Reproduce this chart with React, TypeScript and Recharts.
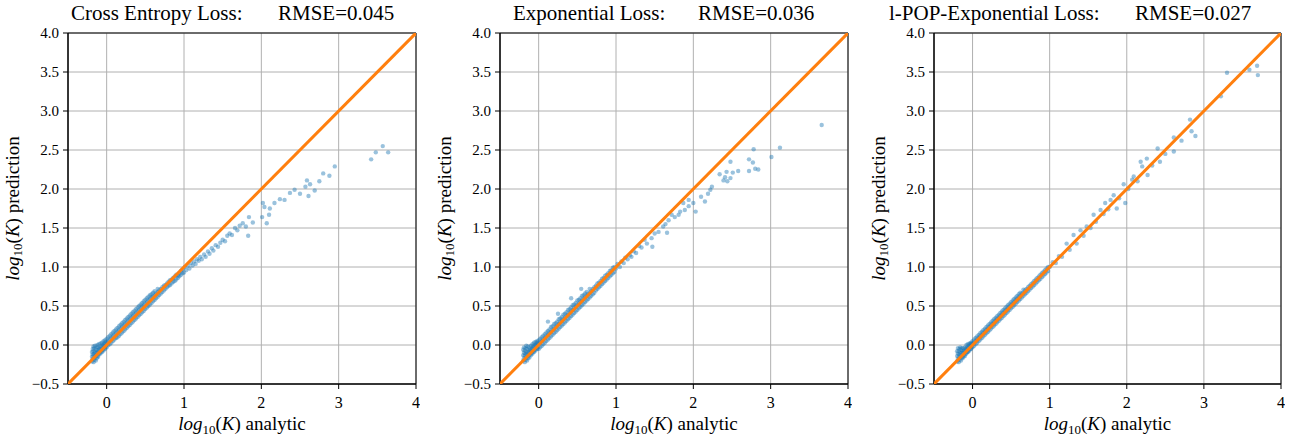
import React from 'react';
import {
  ScatterChart,
  Scatter,
  XAxis,
  YAxis,
  CartesianGrid,
  ReferenceArea,
} from 'recharts';

const X_TICKS: number[] = [0, 1, 2, 3, 4];
const Y_TICKS: number[] = [-0.5, 0, 0.5, 1, 1.5, 2, 2.5, 3, 3.5, 4];
const DIAGONAL = [
  { x: -0.5, y: -0.5 },
  { x: 4, y: 4 },
];

// low-end cluster near log10(K) = -0.2 .. 0
const CE_BLOB: number[][] = [
  [-0.19, -0.21], [-0.19, -0.15], [-0.19, -0.09], [-0.18, -0.18], [-0.18, -0.12], [-0.18, -0.05],
  [-0.17, -0.22], [-0.17, -0.14], [-0.17, -0.08], [-0.17, -0.02], [-0.16, -0.19], [-0.16, -0.11],
  [-0.16, -0.04], [-0.15, -0.16], [-0.15, -0.09], [-0.15, -0.01], [-0.14, -0.2], [-0.14, -0.13],
  [-0.14, -0.06], [-0.13, -0.17], [-0.13, -0.1], [-0.13, -0.03], [-0.12, -0.14], [-0.12, -0.07],
  [-0.12, 0.0], [-0.11, -0.15], [-0.11, -0.09], [-0.11, -0.03], [-0.1, -0.12], [-0.1, -0.06],
  [-0.1, 0.01], [-0.09, -0.1], [-0.09, -0.04], [-0.08, -0.11], [-0.08, -0.05], [-0.08, 0.02],
  [-0.07, -0.08], [-0.07, -0.02], [-0.06, -0.09], [-0.06, -0.03], [-0.06, 0.03], [-0.05, -0.06],
  [-0.05, 0.0], [-0.04, -0.07], [-0.04, -0.01], [-0.04, 0.05], [-0.03, -0.04], [-0.03, 0.02],
  [-0.02, -0.05], [-0.02, 0.01], [-0.02, 0.06], [-0.01, -0.02], [-0.01, 0.04],
];

// rows: x, then the predictions seen at that x
const CE_BAND: number[][] = [
  [0.0, -0.03, 0.03, 0.08], [0.02, 0.0, 0.05, 0.1], [0.04, 0.01, 0.07, 0.12], [0.06, 0.03, 0.09, 0.14],
  [0.08, 0.05, 0.11, 0.16], [0.1, 0.07, 0.13, 0.18], [0.12, 0.09, 0.15, 0.2], [0.14, 0.1, 0.17, 0.22],
  [0.16, 0.12, 0.19, 0.24], [0.18, 0.14, 0.21, 0.26], [0.2, 0.16, 0.23, 0.28], [0.22, 0.18, 0.25, 0.3],
  [0.24, 0.2, 0.27, 0.32], [0.26, 0.22, 0.29, 0.34], [0.28, 0.24, 0.31, 0.36], [0.3, 0.26, 0.33, 0.38],
  [0.32, 0.28, 0.35, 0.4], [0.34, 0.3, 0.37, 0.42], [0.36, 0.32, 0.39, 0.44], [0.38, 0.34, 0.41, 0.46],
  [0.4, 0.36, 0.43, 0.48], [0.42, 0.38, 0.45, 0.5], [0.44, 0.4, 0.47, 0.52], [0.46, 0.42, 0.49, 0.54],
  [0.48, 0.44, 0.51, 0.56], [0.5, 0.46, 0.53, 0.58], [0.52, 0.48, 0.55, 0.6], [0.54, 0.5, 0.57, 0.62],
  [0.56, 0.52, 0.59, 0.64], [0.58, 0.54, 0.61, 0.65], [0.6, 0.56, 0.62, 0.67], [0.62, 0.58, 0.64, 0.69],
  [0.64, 0.6, 0.66], [0.66, 0.62, 0.68, 0.72], [0.68, 0.64, 0.7], [0.7, 0.66, 0.72], [0.72, 0.68, 0.74],
  [0.74, 0.7, 0.76], [0.76, 0.72, 0.77], [0.78, 0.74, 0.79], [0.8, 0.76, 0.81], [0.82, 0.77, 0.83],
  [0.84, 0.79, 0.84], [0.86, 0.81, 0.86], [0.88, 0.82, 0.88], [0.9, 0.84, 0.9], [0.92, 0.86, 0.89],
  [0.94, 0.88, 0.92], [0.96, 0.9, 0.95], [0.98, 0.92, 0.97],
];

const CE_SPARSE: number[][] = [
  [1.0, 0.93], [1.01, 1.0], [1.03, 0.96], [1.05, 1.02], [1.07, 0.98], [1.09, 1.05], [1.11, 1.02],
  [1.13, 1.07], [1.15, 1.04], [1.17, 1.1], [1.19, 1.08], [1.21, 1.13], [1.23, 1.1], [1.26, 1.16],
  [1.28, 1.13], [1.31, 1.2], [1.33, 1.17], [1.36, 1.24], [1.38, 1.21], [1.41, 1.28], [1.44, 1.26],
  [1.47, 1.31], [1.5, 1.35], [1.53, 1.33], [1.56, 1.4], [1.59, 1.43], [1.62, 1.41], [1.66, 1.5],
  [1.69, 1.47], [1.72, 1.53], [1.76, 1.56], [1.8, 1.52], [1.84, 1.64], [1.83, 1.4], [1.89, 1.57],
  [2.01, 1.64], [2.02, 1.82], [2.04, 1.77], [2.07, 1.56], [2.1, 1.67], [2.11, 1.75], [2.17, 1.82],
  [2.24, 1.87], [2.3, 1.86], [2.37, 1.95], [2.43, 1.99], [2.5, 1.94], [2.57, 2.03], [2.59, 2.11],
  [2.61, 1.91], [2.63, 2.06], [2.69, 1.98], [2.75, 2.1], [2.8, 2.2], [2.88, 2.17], [2.95, 2.29],
  [3.42, 2.38], [3.48, 2.47], [3.57, 2.55], [3.64, 2.47],
];

const EXP_BLOB: number[][] = [
  [-0.2, -0.2], [-0.2, -0.13], [-0.2, -0.06], [-0.19, -0.17], [-0.19, -0.1], [-0.19, -0.03],
  [-0.18, -0.22], [-0.18, -0.14], [-0.18, -0.07], [-0.17, -0.19], [-0.17, -0.11], [-0.17, -0.04],
  [-0.16, -0.16], [-0.16, -0.09], [-0.16, -0.01], [-0.15, -0.2], [-0.15, -0.12], [-0.15, -0.05],
  [-0.14, -0.17], [-0.14, -0.1], [-0.14, -0.02], [-0.13, -0.14], [-0.13, -0.07], [-0.12, -0.16],
  [-0.12, -0.09], [-0.12, -0.03], [-0.11, -0.12], [-0.11, -0.06], [-0.1, -0.13], [-0.1, -0.07],
  [-0.1, -0.01], [-0.09, -0.1], [-0.09, -0.04], [-0.08, -0.11], [-0.08, -0.05], [-0.08, 0.01],
  [-0.07, -0.08], [-0.07, -0.02], [-0.06, -0.09], [-0.06, -0.03], [-0.06, 0.03], [-0.05, -0.06],
  [-0.05, 0.0], [-0.04, -0.07], [-0.04, -0.01], [-0.04, 0.04], [-0.03, -0.04], [-0.03, 0.02],
  [-0.02, -0.05], [-0.02, 0.0], [-0.02, 0.05], [-0.01, -0.03], [-0.01, 0.03],
];

const EXP_BAND: number[][] = [
  [0.0, -0.05, 0.01, 0.06], [0.02, -0.03, 0.03, 0.08], [0.04, -0.01, 0.05, 0.1], [0.06, 0.01, 0.07, 0.12],
  [0.08, 0.03, 0.09, 0.14], [0.1, 0.05, 0.11, 0.16], [0.12, 0.07, 0.13, 0.18], [0.14, 0.09, 0.15, 0.2],
  [0.16, 0.11, 0.17, 0.23], [0.18, 0.13, 0.19, 0.24], [0.2, 0.15, 0.21, 0.27], [0.22, 0.17, 0.23, 0.28],
  [0.24, 0.19, 0.25, 0.3], [0.26, 0.21, 0.27, 0.33], [0.28, 0.23, 0.29, 0.34], [0.3, 0.25, 0.31, 0.36],
  [0.32, 0.27, 0.33, 0.39], [0.34, 0.29, 0.35, 0.4], [0.36, 0.31, 0.37, 0.42], [0.38, 0.33, 0.39, 0.45],
  [0.4, 0.35, 0.41, 0.46], [0.42, 0.37, 0.43, 0.48], [0.44, 0.39, 0.45, 0.51], [0.46, 0.41, 0.47, 0.52],
  [0.48, 0.43, 0.49, 0.54], [0.5, 0.45, 0.51, 0.57], [0.52, 0.47, 0.53, 0.58], [0.54, 0.49, 0.55, 0.6],
  [0.56, 0.51, 0.57, 0.63], [0.58, 0.53, 0.59, 0.64], [0.6, 0.55, 0.61, 0.66], [0.62, 0.57, 0.63, 0.68],
  [0.64, 0.59, 0.65], [0.66, 0.61, 0.67, 0.72], [0.68, 0.63, 0.69], [0.7, 0.65, 0.72], [0.72, 0.67, 0.74],
  [0.74, 0.7, 0.76], [0.76, 0.72, 0.79], [0.78, 0.74, 0.8], [0.8, 0.76, 0.82], [0.82, 0.78, 0.85],
  [0.84, 0.8, 0.86], [0.86, 0.82, 0.89], [0.88, 0.84, 0.9], [0.9, 0.86, 0.92], [0.92, 0.88, 0.95],
  [0.94, 0.9, 0.96], [0.96, 0.92, 0.99], [0.98, 0.94, 1.0],
  [0.12, 0.3], [0.25, 0.4], [0.42, 0.6], [0.55, 0.72],
];

const EXP_SPARSE: number[][] = [
  [1.0, 0.98], [1.02, 1.04], [1.05, 1.0], [1.07, 1.07], [1.1, 1.05], [1.12, 1.12], [1.15, 1.1],
  [1.18, 1.15], [1.2, 1.13], [1.23, 1.2], [1.26, 1.18], [1.3, 1.27], [1.33, 1.25], [1.37, 1.35],
  [1.4, 1.3], [1.46, 1.37], [1.47, 1.26], [1.5, 1.43], [1.55, 1.45], [1.61, 1.52], [1.64, 1.55],
  [1.66, 1.44], [1.68, 1.6], [1.72, 1.67], [1.76, 1.64], [1.81, 1.67], [1.83, 1.71], [1.87, 1.82],
  [1.89, 1.73], [1.94, 1.86], [1.94, 1.78], [2.0, 1.82], [2.03, 1.71], [2.1, 1.9], [2.15, 1.84],
  [2.19, 1.94], [2.22, 1.99], [2.24, 2.03], [2.34, 2.19], [2.39, 2.11], [2.41, 2.15], [2.43, 2.22],
  [2.44, 2.1], [2.48, 2.14], [2.48, 2.35], [2.51, 2.21], [2.58, 2.23], [2.72, 2.23], [2.72, 2.38],
  [2.77, 2.34], [2.78, 2.51], [2.8, 2.26], [2.84, 2.25], [3.01, 2.41], [3.12, 2.53], [3.66, 2.82],
];

const POP_BLOB: number[][] = [
  [-0.2, -0.21], [-0.2, -0.14], [-0.2, -0.08], [-0.19, -0.18], [-0.19, -0.11], [-0.19, -0.04],
  [-0.18, -0.22], [-0.18, -0.15], [-0.18, -0.08], [-0.17, -0.19], [-0.17, -0.12], [-0.17, -0.05],
  [-0.16, -0.16], [-0.16, -0.1], [-0.16, -0.03], [-0.15, -0.2], [-0.15, -0.13], [-0.15, -0.06],
  [-0.14, -0.17], [-0.14, -0.1], [-0.14, -0.04], [-0.13, -0.15], [-0.13, -0.08], [-0.12, -0.16],
  [-0.12, -0.1], [-0.12, -0.04], [-0.11, -0.13], [-0.11, -0.07], [-0.1, -0.14], [-0.1, -0.08],
  [-0.1, -0.03], [-0.09, -0.11], [-0.09, -0.05], [-0.08, -0.11], [-0.08, -0.06], [-0.08, 0.0],
  [-0.07, -0.09], [-0.07, -0.03], [-0.06, -0.09], [-0.06, -0.04], [-0.06, 0.01], [-0.05, -0.07],
  [-0.05, -0.01], [-0.04, -0.07], [-0.04, -0.02], [-0.04, 0.02], [-0.03, -0.05], [-0.03, 0.01],
  [-0.02, -0.05], [-0.02, -0.01], [-0.02, 0.03], [-0.01, -0.03], [-0.01, 0.02],
];

const POP_BAND: number[][] = [
  [0.0, -0.03, 0.01, 0.05], [0.02, -0.01, 0.03, 0.07], [0.04, 0.01, 0.05, 0.09], [0.06, 0.03, 0.07, 0.11],
  [0.08, 0.05, 0.09, 0.13], [0.1, 0.07, 0.11, 0.15], [0.12, 0.09, 0.13, 0.17], [0.14, 0.11, 0.15, 0.19],
  [0.16, 0.13, 0.17, 0.21], [0.18, 0.15, 0.19, 0.23], [0.2, 0.17, 0.21, 0.25], [0.22, 0.19, 0.23, 0.27],
  [0.24, 0.21, 0.25, 0.29], [0.26, 0.23, 0.27, 0.31], [0.28, 0.25, 0.29, 0.33], [0.3, 0.27, 0.31, 0.35],
  [0.32, 0.29, 0.33, 0.37], [0.34, 0.31, 0.35, 0.39], [0.36, 0.33, 0.37, 0.41], [0.38, 0.35, 0.39, 0.43],
  [0.4, 0.37, 0.41, 0.45], [0.42, 0.39, 0.43, 0.47], [0.44, 0.41, 0.45, 0.49], [0.46, 0.43, 0.47, 0.51],
  [0.48, 0.45, 0.49, 0.53], [0.5, 0.47, 0.51, 0.55], [0.52, 0.49, 0.53, 0.57], [0.54, 0.51, 0.55, 0.59],
  [0.56, 0.53, 0.57, 0.61], [0.58, 0.55, 0.59, 0.63], [0.6, 0.57, 0.61, 0.65], [0.62, 0.59, 0.63, 0.67],
  [0.64, 0.61, 0.66], [0.66, 0.63, 0.67, 0.71], [0.68, 0.65, 0.7], [0.7, 0.67, 0.72], [0.72, 0.69, 0.74],
  [0.74, 0.71, 0.76], [0.76, 0.73, 0.78], [0.78, 0.75, 0.8], [0.8, 0.77, 0.82], [0.82, 0.79, 0.84],
  [0.84, 0.81, 0.86], [0.86, 0.83, 0.88], [0.88, 0.85, 0.9], [0.9, 0.87, 0.92], [0.92, 0.89, 0.94],
  [0.94, 0.91, 0.96], [0.96, 0.93, 0.98], [0.98, 0.95, 1.0],
];

const POP_SPARSE: number[][] = [
  [1.0, 1.0], [1.04, 1.06], [1.08, 1.05], [1.12, 1.14], [1.16, 1.13], [1.22, 1.3], [1.26, 1.22],
  [1.31, 1.41], [1.35, 1.3], [1.4, 1.47], [1.44, 1.4], [1.48, 1.52], [1.53, 1.5], [1.57, 1.67],
  [1.6, 1.58], [1.66, 1.73], [1.7, 1.68], [1.72, 1.82], [1.76, 1.74], [1.79, 1.86], [1.83, 1.92],
  [1.87, 1.75], [1.9, 1.88], [1.96, 2.06], [1.98, 1.82], [2.02, 2.0], [2.07, 2.12], [2.09, 2.16],
  [2.14, 2.1], [2.18, 2.35], [2.2, 2.29], [2.26, 2.39], [2.27, 2.18], [2.33, 2.3], [2.4, 2.52],
  [2.43, 2.35], [2.5, 2.45], [2.61, 2.66], [2.61, 2.48], [2.71, 2.62], [2.82, 2.89], [2.84, 2.74],
  [2.89, 2.68], [3.22, 3.19], [3.3, 3.49], [3.59, 3.53], [3.69, 3.58], [3.7, 3.46],
];

const toPoints = (blob: number[][], band: number[][], sparse: number[][]) => [
  ...blob.map(([x, y]) => ({ x, y })),
  ...band.flatMap(([x, ...ys]) => ys.map((y) => ({ x, y }))),
  ...sparse.map(([x, y]) => ({ x, y })),
];

const PANELS = [
  { title: 'Cross Entropy Loss:', rmse: 'RMSE=0.045', points: toPoints(CE_BLOB, CE_BAND, CE_SPARSE), plotLeft: 68, plotWidth: 348, titleX: 71, rmseX: 278 },
  { title: 'Exponential Loss:', rmse: 'RMSE=0.036', points: toPoints(EXP_BLOB, EXP_BAND, EXP_SPARSE), plotLeft: 500, plotWidth: 348, titleX: 513, rmseX: 698 },
  { title: 'l-POP-Exponential Loss:', rmse: 'RMSE=0.027', points: toPoints(POP_BLOB, POP_BAND, POP_SPARSE), plotLeft: 934, plotWidth: 347, titleX: 889, rmseX: 1135 },
];

const PLOT_TOP = 33;
const PLOT_BOTTOM = 384;
const Y_AXIS_W = 60;
const HEIGHT = 437;
const SERIF = "'Liberation Serif', serif";
const textStyle = { fontFamily: SERIF };

const fmtY = (v: number) => v.toFixed(1).replace('-', '\u2212');

const XTick = (props: any) => (
  <text x={props.x} y={props.y} dy="0.71em" textAnchor="middle" style={textStyle} fontSize={16} fill="#000">
    {props.payload.value}
  </text>
);

const YTick = (props: any) => (
  <text x={props.x} y={props.y} dy="0.34em" textAnchor="end" style={textStyle} fontSize={15} fill="#000">
    {fmtY(props.payload.value)}
  </text>
);

const Dot = (props: any) => (
  <circle cx={props.cx} cy={props.cy} r={2.2} fill="#1f77b4" fillOpacity={0.45} />
);
const NoDot = () => <g />;

const MathLabel: React.FC<{ word: string }> = ({ word }) => (
  <>
    <tspan fontStyle="italic">log</tspan>
    <tspan fontSize={13} dy={4}>10</tspan>
    <tspan dy={-4}>(</tspan>
    <tspan fontStyle="italic">K</tspan>
    <tspan>) {word}</tspan>
  </>
);

const Panel: React.FC<{ p: (typeof PANELS)[number] }> = ({ p }) => {
  const width = Y_AXIS_W + p.plotWidth + 4;
  return (
    <div style={{ position: 'absolute', left: p.plotLeft - Y_AXIS_W, top: 0, fontFamily: SERIF }}>
      <ScatterChart
        width={width}
        height={HEIGHT}
        margin={{ top: PLOT_TOP, right: 4, bottom: 0, left: 0 }}
      >
        <CartesianGrid stroke="#b0b0b0" strokeWidth={1} />
        <XAxis
          type="number"
          dataKey="x"
          domain={[-0.5, 4]}
          ticks={X_TICKS}
          allowDataOverflow
          height={HEIGHT - PLOT_BOTTOM}
          tick={XTick}
          tickSize={5}
          tickMargin={8}
          axisLine={{ stroke: '#000' }}
          tickLine={{ stroke: '#000' }}
        />
        <YAxis
          type="number"
          dataKey="y"
          domain={[-0.5, 4]}
          ticks={Y_TICKS}
          allowDataOverflow
          width={Y_AXIS_W}
          tick={YTick}
          tickSize={5}
          tickMargin={4}
          axisLine={{ stroke: '#000' }}
          tickLine={{ stroke: '#000' }}
        />
        <Scatter data={p.points} shape={Dot} isAnimationActive={false} />
        <Scatter
          data={DIAGONAL}
          shape={NoDot}
          line={{ stroke: '#ff7f0e', strokeWidth: 3 }}
          isAnimationActive={false}
        />
        <ReferenceArea x1={-0.5} x2={4} y1={-0.5} y2={4} fill="none" stroke="#000" strokeWidth={1} />
      </ScatterChart>
    </div>
  );
};

export default function App() {
  const midY = (PLOT_TOP + PLOT_BOTTOM) / 2;
  return (
    <div style={{ position: 'absolute', left: 0, top: 0, width: 1294, height: HEIGHT, background: '#fff' }}>
      {PANELS.map((p) => (
        <Panel key={p.title} p={p} />
      ))}
      <svg
        width={1294}
        height={HEIGHT}
        style={{ position: 'absolute', left: 0, top: 0, pointerEvents: 'none' }}
      >
        {PANELS.map((p) => {
          const cx = p.plotLeft + p.plotWidth / 2;
          const lx = p.plotLeft - 53;
          return (
            <g key={p.title}>
              <text x={p.titleX} y={20} style={textStyle} fontSize={21} fill="#000">
                {p.title}
              </text>
              <text x={p.rmseX} y={20} style={textStyle} fontSize={21} fill="#000">
                {p.rmse}
              </text>
              <text x={cx} y={430} textAnchor="middle" style={textStyle} fontSize={19} fill="#000">
                <MathLabel word="analytic" />
              </text>
              <text
                x={lx}
                y={midY}
                textAnchor="middle"
                style={textStyle}
                fontSize={19}
                fill="#000"
                transform={`rotate(-90 ${lx} ${midY})`}
                dominantBaseline="middle"
              >
                <MathLabel word="prediction" />
              </text>
            </g>
          );
        })}
      </svg>
    </div>
  );
}
